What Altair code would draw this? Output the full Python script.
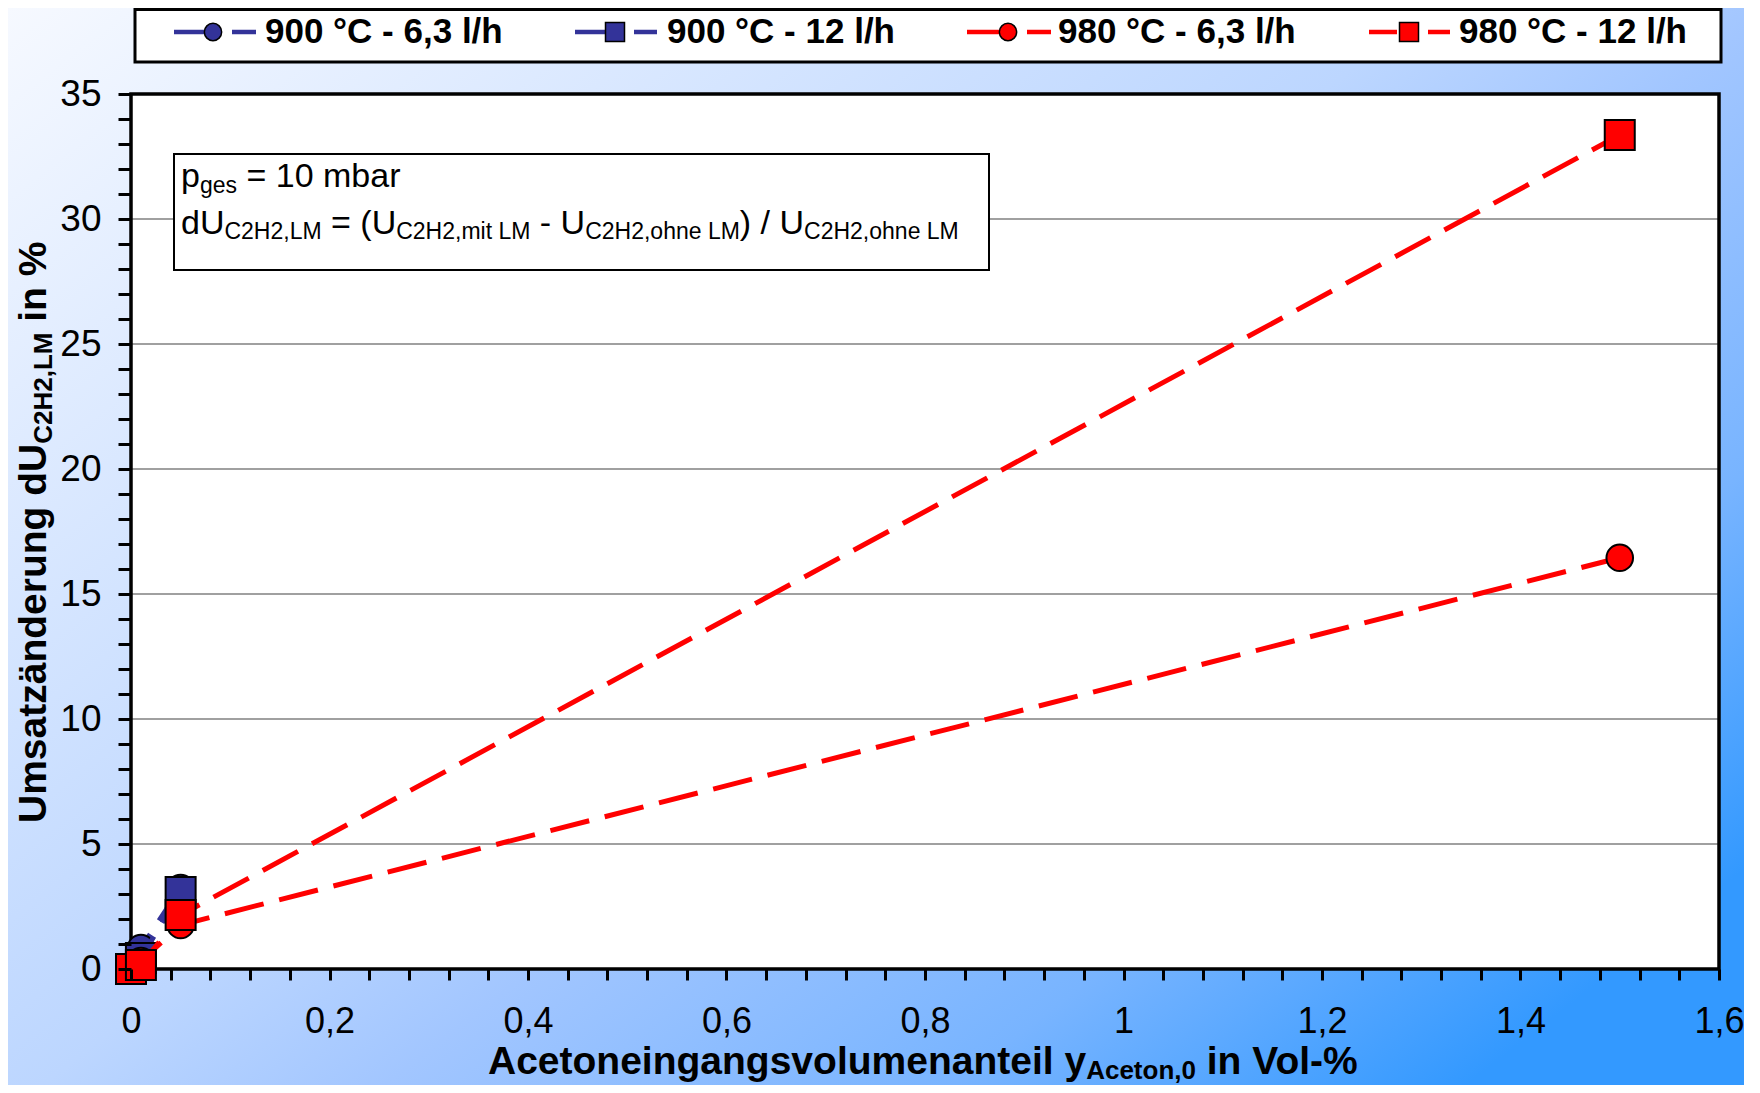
import altair as alt
import pandas as pd

# ---------------- data ----------------
series_names = ["900 °C - 6,3 l/h", "900 °C - 12 l/h", "980 °C - 6,3 l/h", "980 °C - 12 l/h"]
series_colors = ["#333399", "#333399", "#ff0000", "#ff0000"]
series_shapes = ["circle", "square", "circle", "square"]

x_900 = [0, 0.01, 0.05]
y_900_63 = [0, 0.84, 3.24]
y_900_12 = [0, 0.44, 3.08]
x_980 = [0, 0.01, 0.05, 1.5]
y_980_63 = [0, 0.32, 1.76, 16.45]
y_980_12 = [0, 0.16, 2.16, 33.36]

series_x = [x_900, x_900, x_980, x_980]
series_y = [y_900_63, y_900_12, y_980_63, y_980_12]

x_ticks = [round(i * 0.04, 2) for i in range(41)]
y_ticks = list(range(0, 36))
grid_values = [5, 10, 15, 20, 25, 30]

x_title = [("Acetoneingangsvolumenanteil y", 39, 0), ("Aceton,0", 26, 5), (" in Vol-%", 39, 0)]
y_title = [("Umsatzänderung dU", 39, 0), ("C2H2,LM", 26, 6), (" in %", 39, 0)]
note_line1 = [("p", 34, 0), ("ges", 23, 6), (" = 10 mbar", 34, 0)]
note_line2 = [("dU", 34, 0), ("C2H2,LM", 23, 5), (" = (U", 34, 0), ("C2H2,mit LM", 23, 5),
              (" - U", 34, 0), ("C2H2,ohne LM", 23, 5), (") / U", 34, 0), ("C2H2,ohne LM", 23, 5)]

# ---------------- layout ----------------
PAD_L, PAD_T, PAD_R, PAD_B = 123, 86, 25, 116
W, H = 1588, 875
FONT = "Liberation Sans, Arial, Helvetica, sans-serif"

# legend layout (pixels in chart coords)
leg_line = [(43, 74), (444, 475), (836, 868), (1238, 1266)]
leg_mark = [82, 484, 877, 1278]
leg_dash = [(101, 125), (503, 526), (896, 920), (1297, 1319)]
leg_text = [134, 536, 927, 1328]
LEG_Y = -62

W_REG = {' ': 278, '(': 333, ')': 333, ',': 278, '-': 333, '/': 278, '=': 584, 'C': 722, 'H': 722,
         'L': 556, 'M': 833, 'U': 722, 'a': 556, 'b': 556, 'd': 556, 'e': 556, 'g': 556, 'h': 556,
         'i': 222, 'm': 833, 'n': 556, 'o': 556, 'p': 556, 'r': 333, 's': 500, 't': 278}
W_BOLD = {' ': 278, '%': 889, ',': 278, '-': 333, 'A': 722, 'C': 722, 'H': 722, 'L': 611, 'M': 833,
          'U': 722, 'V': 667, 'a': 556, 'c': 556, 'd': 611, 'e': 556, 'g': 611, 'i': 278, 'l': 278,
          'm': 889, 'n': 611, 'o': 611, 'r': 389, 's': 556, 't': 333, 'u': 611, 'v': 556, 'y': 556,
          'z': 500, 'ä': 556}


def tw(s, size, bold):
    tab = W_BOLD if bold else W_REG
    return sum(tab.get(ch, 556) for ch in s) / 1000.0 * size


def runs(parts, start, base, bold, vertical=False):
    rows = []
    pos = start
    for txt, size, shift in parts:
        lead = len(txt) - len(txt.lstrip(' '))
        core = txt.strip(' ')
        off = tw(' ' * lead, size, bold)
        if vertical:
            rows.append(dict(px=base + shift, py=pos - off, t=core, fs=size))
            pos -= tw(txt, size, bold)
        else:
            rows.append(dict(px=pos + off, py=base + shift, t=core, fs=size))
            pos += tw(txt, size, bold)
    return rows


one = pd.DataFrame({"k": [0]})

grad = alt.LinearGradient(
    gradient="linear",
    stops=[alt.GradientStop(color="#f6f9ff", offset=0),
           alt.GradientStop(color="#bcd6ff", offset=0.5),
           alt.GradientStop(color="#a2c6ff", offset=0.62),
           alt.GradientStop(color="#78b4ff", offset=0.82),
           alt.GradientStop(color="#3399ff", offset=1)],
    x1=0, y1=0, x2=1, y2=0.8)

xscale = alt.Scale(domain=[0, 1.6], nice=False, zero=False)
yscale = alt.Scale(domain=[0, 35], nice=False, zero=False)

x_axis = alt.Axis(values=x_ticks, title=None, grid=False, domain=False, zindex=1,
                  labelExpr="abs(datum.value*5 - round(datum.value*5)) < 0.001 ? replace(format(datum.value, '~g'), '.', ',') : ''",
                  tickSize=11, tickWidth=3, tickColor="black", labelFont=FONT, labelFontSize=36,
                  labelColor="black", labelPadding=24, labelOverlap=False, labelFlush=False)
y_axis = alt.Axis(values=y_ticks, title=None, grid=False, domain=False, zindex=1,
                  labelExpr="datum.value % 5 == 0 ? datum.label : ''",
                  tickSize=13, tickWidth=3, tickColor="black", labelFont=FONT, labelFontSize=37,
                  labelColor="black", labelPadding=17, labelOverlap=False, labelFlush=False)

layers = []
layers.append(alt.Chart(one).mark_rect(fill=grad).encode(
    x=alt.value(-PAD_L), x2=alt.value(W + PAD_R), y=alt.value(-PAD_T), y2=alt.value(H + PAD_B)))
layers.append(alt.Chart(one).mark_rect(fill="white").encode(
    x=alt.value(0), x2=alt.value(W), y=alt.value(0), y2=alt.value(H)))

grid_df = pd.DataFrame({"y": grid_values})
layers.append(alt.Chart(grid_df).mark_rule(color="#808080", strokeWidth=1.5).encode(
    y=alt.Y("y:Q", scale=yscale, axis=y_axis)))

# annotation box and text
layers.append(alt.Chart(one).mark_rect(fill="white", stroke="black", strokeWidth=2).encode(
    x=alt.value(43), x2=alt.value(858), y=alt.value(60), y2=alt.value(176)))
note_df = pd.DataFrame(runs(note_line1, 50, 93, False) + runs(note_line2, 50, 140, False))
layers.append(alt.Chart(note_df).mark_text(align="left", baseline="alphabetic", font=FONT, color="black").encode(
    x=alt.X("px:Q", scale=None), y=alt.Y("py:Q", scale=None), text="t:N", size=alt.Size("fs:Q", scale=None)))

# frame
layers.append(alt.Chart(one).mark_rect(fillOpacity=0, stroke="black", strokeWidth=3.5).encode(
    x=alt.value(0), x2=alt.value(W), y=alt.value(0), y2=alt.value(H)))

for i, name in enumerate(series_names):
    df = pd.DataFrame({"x": series_x[i], "y": series_y[i]})
    base = alt.Chart(df)
    layers.append(base.mark_line(color=series_colors[i], strokeWidth=5, strokeDash=[40, 16]).encode(
        x=alt.X("x:Q", scale=xscale, axis=x_axis), y=alt.Y("y:Q", scale=yscale, axis=y_axis)))
    size = 707 if series_shapes[i] == "circle" else 900
    layers.append(base.mark_point(shape=series_shapes[i], filled=True, fill=series_colors[i], fillOpacity=1,
                                  stroke="black", strokeWidth=2, opacity=1, size=size).encode(
        x=alt.X("x:Q", scale=xscale, axis=x_axis), y=alt.Y("y:Q", scale=yscale, axis=y_axis)))

# legend
layers.append(alt.Chart(one).mark_rect(fill="white", stroke="black", strokeWidth=3).encode(
    x=alt.value(4), x2=alt.value(1590), y=alt.value(-84.5), y2=alt.value(-32)))
for i, name in enumerate(series_names):
    ldf = pd.DataFrame({"a": [leg_line[i][0], leg_dash[i][0]], "b": [leg_line[i][1], leg_dash[i][1]]})
    layers.append(alt.Chart(ldf).mark_rule(color=series_colors[i], strokeWidth=4.5).encode(
        x=alt.X("a:Q", scale=None), x2="b:Q", y=alt.value(LEG_Y)))
    mdf = pd.DataFrame({"m": [leg_mark[i]]})
    lsize = 300 if series_shapes[i] == "circle" else 361
    layers.append(alt.Chart(mdf).mark_point(shape=series_shapes[i], filled=True, fill=series_colors[i],
                                            fillOpacity=1, stroke="black", strokeWidth=1.5, opacity=1,
                                            size=lsize).encode(
        x=alt.X("m:Q", scale=None), y=alt.value(LEG_Y)))
    tdf = pd.DataFrame({"m": [leg_text[i]], "t": [name]})
    layers.append(alt.Chart(tdf).mark_text(align="left", baseline="middle", font=FONT, fontWeight="bold",
                                           fontSize=35, color="black").encode(
        x=alt.X("m:Q", scale=None), y=alt.value(LEG_Y), text="t:N"))

# axis titles
xt_df = pd.DataFrame(runs(x_title, 357, 980, True))
layers.append(alt.Chart(xt_df).mark_text(align="left", baseline="alphabetic", font=FONT, fontWeight="bold",
                                         color="black").encode(
    x=alt.X("px:Q", scale=None), y=alt.Y("py:Q", scale=None), text="t:N", size=alt.Size("fs:Q", scale=None)))
yt_df = pd.DataFrame(runs(y_title, 729, -85, True, vertical=True))
layers.append(alt.Chart(yt_df).mark_text(align="left", baseline="alphabetic", font=FONT, fontWeight="bold",
                                         color="black", angle=270).encode(
    x=alt.X("px:Q", scale=None), y=alt.Y("py:Q", scale=None), text="t:N", size=alt.Size("fs:Q", scale=None)))

chart = alt.layer(*layers).properties(
    width=W, height=H,
    autosize=alt.AutoSizeParams(type="none"),
    padding={"left": PAD_L, "top": PAD_T, "right": PAD_R, "bottom": PAD_B},
    background="#e8f0ff",
).configure_view(strokeWidth=0)

chart.save("out.html", embed_options={"renderer": "svg", "actions": False})
